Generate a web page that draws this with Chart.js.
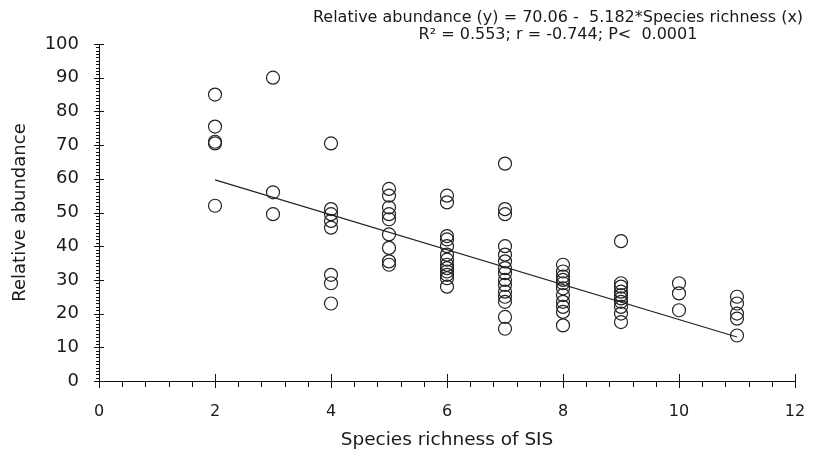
<!DOCTYPE html>
<html><head><meta charset="utf-8">
<script src="https://cdn.jsdelivr.net/npm/chart.js@4/dist/chart.umd.min.js"></script>
<style>html,body{margin:0;padding:0;background:#fff}#wrap{width:828px;height:451px}</style>
</head><body><div id="wrap"><canvas id="c" width="828" height="451"></canvas></div>
<script>
// Species richness (x) and relative abundance (y), one array per column
const richness = [2,3,4,5,6,7,8,9,10,11];
const abundanceByRichness = [
  [85, 75.5, 71, 70.5, 52],
  [90, 56, 49.5],
  [70.5, 51, 49.5, 47.5, 45.5, 31.5, 29, 23],
  [57, 55, 51.5, 49.5, 48, 43.5, 39.5, 35.5, 34.5],
  [55, 53, 43, 42, 40, 37.5, 36, 34.5, 33.5, 32.5, 31.5, 30.5, 28],
  [64.5, 51, 49.5, 40, 37.5, 35.5, 33.5, 32, 30, 28.5, 26.5, 25, 23.5, 19, 15.5],
  [34.5, 32.5, 31, 30, 29, 27.5, 25.5, 23.5, 22, 20.5, 16.5],
  [41.5, 29, 28, 26.5, 25.5, 24.5, 23.5, 22, 20, 17.5],
  [29, 26, 21],
  [25, 23, 20, 18.5, 13.5]
];
// Regression: y = intercept + slope * x, drawn across the observed range
const intercept = 70.06;
const slope = -5.182;
const fitRange = [2, 11];
const xTicks = [0,2,4,6,8,10,12];
const yTicks = [0,10,20,30,40,50,60,70,80,90,100];
const equationLines = [
  "Relative abundance (y) = 70.06 -  5.182*Species richness (x)",
  "R\u00B2 = 0.553; r = -0.744; P<  0.0001"
];

const points = [];
richness.forEach((x, i) => abundanceByRichness[i].forEach(y => points.push({x, y})));
const fitLine = fitRange.map(x => ({x, y: intercept + slope * x}));

const FONT = "'DejaVu Sans', Verdana, sans-serif";

const tickPlugin = {
  id: 'ticksAndText',
  afterDraw(chart) {
    const ctx = chart.ctx, xs = chart.scales.x, ys = chart.scales.y;
    const y0 = ys.getPixelForValue(0), x0 = xs.getPixelForValue(0);
    ctx.save();
    ctx.strokeStyle = '#111';
    ctx.lineWidth = 1;
    ctx.beginPath();
    // y axis: major ticks crossing, minor every 1
    for (let v = 0; v <= 100; v += 1) {
      const py = Math.round(ys.getPixelForValue(v)) + 0.5;
      if (v % 10 === 0) { ctx.moveTo(x0 - 5, py); ctx.lineTo(x0 + 5, py); }
      else { ctx.moveTo(x0 - 3, py); ctx.lineTo(x0, py); }
    }
    // x axis: major ticks crossing, minor every 0.4 below
    for (let k = 0; k <= 30; k++) {
      const v = k * 0.4;
      const px = Math.round(xs.getPixelForValue(v)) + 0.5;
      if (k % 5 === 0) { ctx.moveTo(px, y0 - 7); ctx.lineTo(px, y0 + 7); }
      else { ctx.moveTo(px, y0); ctx.lineTo(px, y0 + 6); }
    }
    ctx.stroke();
    ctx.fillStyle = '#1a1a1a';
    ctx.font = '16px ' + FONT;
    ctx.textAlign = 'center';
    ctx.textBaseline = 'middle';
    ctx.fillText(equationLines[0], 558, 18);
    ctx.fillText(equationLines[1], 558, 35);
    ctx.restore();
  }
};

new Chart(document.getElementById('c'), {
  type: 'scatter',
  data: {
    datasets: [
      { data: points, pointRadius: 6.5, pointHoverRadius: 6.5, pointBackgroundColor: 'rgba(0,0,0,0)',
        pointBorderColor: '#222', pointBorderWidth: 1.2, showLine: false },
      { type: 'line', data: fitLine, borderColor: '#222', borderWidth: 1.2, pointRadius: 0, fill: false }
    ]
  },
  options: {
    responsive: false, animation: false,
    layout: { padding: { left: 0, right: 33, top: 44, bottom: 0 } },
    plugins: { legend: { display: false }, tooltip: { enabled: false } },
    scales: {
      x: {
        type: 'linear', min: 0, max: 12,
        afterBuildTicks: s => { s.ticks = xTicks.map(v => ({value: v})); },
        afterFit: s => { s.height = 70; },
        grid: { display: false, drawTicks: false },
        border: { display: true, color: '#111', width: 1 },
        ticks: { padding: 21, color: '#1a1a1a', font: { family: FONT, size: 16 } },
        title: { display: true, text: 'Species richness of SIS', color: '#1a1a1a', padding: { top: 0, bottom: 2 },
                 font: { family: FONT, size: 18.5, lineHeight: 1.0 } }
      },
      y: {
        type: 'linear', min: 0, max: 100,
        afterBuildTicks: s => { s.ticks = yTicks.map(v => ({value: v})); },
        afterFit: s => { s.width = 99; },
        grid: { display: false, drawTicks: false },
        border: { display: true, color: '#111', width: 1 },
        ticks: { padding: 20, color: '#1a1a1a', font: { family: FONT, size: 18 } },
        title: { display: true, text: 'Relative abundance', color: '#1a1a1a', padding: { top: 10, bottom: 0 },
                 font: { family: FONT, size: 18 } }
      }
    }
  },
  plugins: [tickPlugin]
});
</script></body></html>
